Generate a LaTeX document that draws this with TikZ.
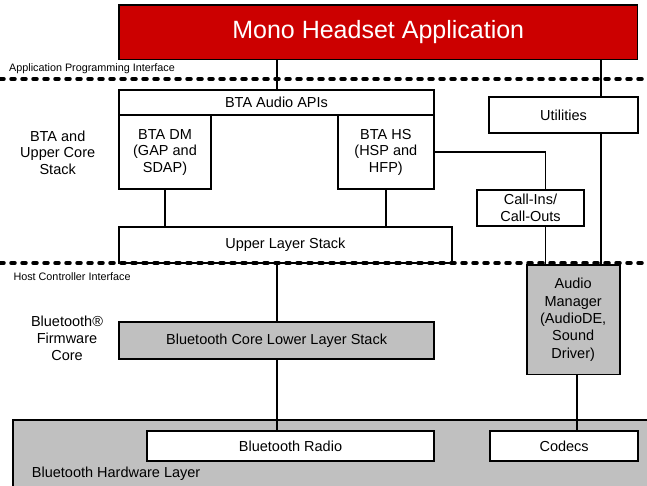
\documentclass[tikz,border=0pt]{standalone}
\usepackage{fontspec}
\setmainfont{Liberation Sans}
\definecolor{appred}{RGB}{204,0,0}
\definecolor{hwgray}{RGB}{192,192,192}
\begin{document}
\begin{tikzpicture}[x=1pt,y=-1pt,
  box/.style={draw=black, line width=1.8pt, fill=white, inner sep=0pt, outer sep=0pt, align=center, font=\fontsize{14.5}{16.5}\selectfont},
  graybox/.style={box, fill=hwgray},
  conn/.style={line width=1.6pt},
  sepline/.style={line width=3.5pt, dash pattern=on 4pt off 7pt, line cap=round},
  lbl/.style={inner sep=0pt, align=center, font=\fontsize{14.5}{16.5}\selectfont},
  small/.style={inner sep=0pt, anchor=west, font=\fontsize{10.8}{12}\selectfont}]
\useasboundingbox (0,0) rectangle (647,486);

% hardware layer background
\node[graybox, minimum width=637.3pt, minimum height=66.5pt] (hw) at (331.35,453.25) {};
\node[small, font=\fontsize{14.5}{16.5}\selectfont] (hwl) at (31.7,473.3) {Bluetooth Hardware Layer};

% boxes
\node[box, fill=appred, text=white, font=\fontsize{25}{28}\selectfont, minimum width=518.5pt, minimum height=54.8pt] (app) at (378.25,32.1) {Mono Headset Application};
\node[box, minimum width=315pt, minimum height=25pt] (apis) at (276.5,102.8) {BTA Audio APIs};
\node[box, minimum width=92pt, minimum height=74pt] (dm) at (165,152.3) {BTA DM\\(GAP and\\SDAP)};
\node[box, minimum width=96.3pt, minimum height=74pt] (hs) at (385.85,152.3) {BTA HS\\(HSP and\\HFP)};
\node[box, minimum width=148.4pt, minimum height=36.3pt] (util) at (563.5,115.15) {Utilities};
\node[box, minimum width=107.6pt, minimum height=36pt] (calls) at (530.5,208) {Call-Ins/\\Call-Outs};
\node[box, minimum width=332.7pt, minimum height=36.3pt] (uls) at (285.35,244.85) {Upper Layer Stack};
\node[graybox, minimum width=93pt, minimum height=109.5pt, font=\fontsize{14.5}{17.4}\selectfont] (am) at (573.2,319.75) {Audio\\Manager\\(AudioDE,\\Sound\\Driver)};
\node[graybox, minimum width=315.3pt, minimum height=37.3pt] (bclls) at (276.65,340.35) {Bluetooth Core Lower Layer Stack};
\node[box, minimum width=287.6pt, minimum height=29.7pt] (radio) at (290.5,445.85) {Bluetooth Radio};
\node[box, minimum width=148.3pt, minimum height=29.7pt] (codecs) at (564.15,445.85) {Codecs};

% side labels
\node[lbl] (bta) at (57.7,152.5) {BTA and\\Upper Core\\Stack};
\node[lbl, font=\fontsize{14.5}{17}\selectfont] (fw) at (67,338.7) {Bluetooth®\\Firmware\\Core};
\node[small] (apil) at (9,68.3) {Application Programming Interface};
\node[small] (hcil) at (13.3,276.5) {Host Controller Interface};

% connectors
\coordinate (xa) at (276.7,0);
\coordinate (xu) at (600.9,0);
\coordinate (xc) at (545.6,0);
\coordinate (xm) at (577,0);
\draw[conn] (app.south -| xa) -- (apis.north -| xa);
\draw[conn] (app.south -| xu) -- (util.north -| xu);
\draw[conn] (util.south -| xu) -- (am.north -| xu);
\draw[conn] (hs.east) -- (hs.east -| xc) -- (calls.north -| xc);
\draw[conn] (calls.south -| xc) -- (am.north -| xc);
\draw[conn] (dm.south) -- (uls.north -| dm.south);
\draw[conn] (hs.south) -- (uls.north -| hs.south);
\draw[conn] (uls.south -| xa) -- (bclls.north -| xa);
\draw[conn] (bclls.south -| xa) -- (radio.north -| xa);
\draw[conn] (am.south -| xm) -- (codecs.north -| xm);

% interface separators
\coordinate (apiL) at (0,79);
\coordinate (apiR) at (647,79);
\coordinate (hciL) at (0,263);
\coordinate (hciR) at (647,263);
\draw[sepline] (apiL) -- (apiR);
\draw[sepline] (hciL) -- (hciR);
\end{tikzpicture}
\end{document}
